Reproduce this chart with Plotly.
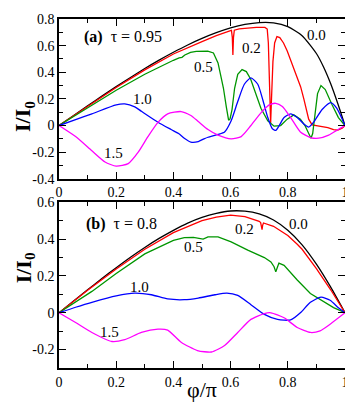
import plotly.graph_objects as go

# ---- panel (a): tau = 0.95 ----
a_x_00 = [0, 0.05, 0.1, 0.15, 0.2, 0.25, 0.3, 0.35, 0.4, 0.45, 0.5, 0.55, 0.6, 0.65,
          0.7, 0.75, 0.8, 0.85, 0.9, 0.925, 0.95, 0.975, 0.99, 1]
a_y_00 = [0, 0.074, 0.148, 0.221, 0.292, 0.361, 0.428, 0.491, 0.550, 0.605, 0.654, 0.697,
          0.733, 0.759, 0.773, 0.771, 0.743, 0.675, 0.541, 0.440, 0.314, 0.164, 0.066, 0]

a_x_02 = [0, 0.1, 0.2, 0.3, 0.4, 0.5, 0.55, 0.6, 0.603, 0.606, 0.608, 0.610, 0.613, 0.63,
          0.66, 0.69, 0.72, 0.728, 0.732, 0.735, 0.738, 0.740, 0.743, 0.748, 0.754, 0.762,
          0.772, 0.785, 0.798, 0.815, 0.833, 0.845, 0.856, 0.865, 0.873, 0.885, 0.9, 0.92,
          0.94, 0.96, 0.975, 0.99, 1]
a_y_02 = [0, 0.145, 0.286, 0.418, 0.537, 0.630, 0.675, 0.712, 0.714, 0.66, 0.53, 0.66, 0.716,
          0.726, 0.733, 0.737, 0.737, 0.725, 0.62, 0.35, 0.05, 0.02, 0.2, 0.48, 0.62, 0.668,
          0.66, 0.62, 0.56, 0.46, 0.37, 0.29, 0.20, 0.12, 0.048, 0.005, 0.0, -0.005,
          -0.015, -0.03, -0.035, -0.02, 0]

a_x_05 = [0, 0.1, 0.2, 0.3, 0.35, 0.4, 0.42, 0.43, 0.44, 0.46, 0.48, 0.52, 0.54, 0.556,
          0.565, 0.575, 0.585, 0.593, 0.598, 0.605, 0.614, 0.625, 0.64, 0.655, 0.67, 0.683,
          0.706, 0.73, 0.752, 0.775, 0.798, 0.821, 0.844, 0.86, 0.87, 0.881, 0.887, 0.895,
          0.904, 0.916, 0.931, 0.954, 0.977, 1]
a_y_05 = [0, 0.135, 0.265, 0.385, 0.44, 0.49, 0.508, 0.512, 0.53, 0.55, 0.557, 0.558, 0.545,
          0.47, 0.38, 0.28, 0.14, 0.04, 0.05, 0.12, 0.28, 0.385, 0.42, 0.405, 0.35, 0.275,
          0.13, 0.036, -0.005, 0.0, 0.048, 0.08, 0.048, 0.0, -0.04, -0.095, -0.06, 0.1,
          0.24, 0.30, 0.27, 0.16, 0.06, 0]

a_x_10 = [0, 0.058, 0.115, 0.2, 0.23, 0.265, 0.288, 0.346, 0.392, 0.418, 0.438, 0.461,
          0.487, 0.507, 0.521, 0.556, 0.579, 0.602, 0.625, 0.648, 0.671, 0.695, 0.713,
          0.73, 0.746, 0.758, 0.77, 0.787, 0.81, 0.833, 0.856, 0.873, 0.89, 0.92, 0.95,
          0.971, 1]
a_y_10 = [0, 0.045, 0.088, 0.155, 0.162, 0.14, 0.107, 0.025, -0.03, -0.06, -0.095, -0.124,
          -0.12, -0.1, -0.088, -0.067, -0.048, 0.036, 0.18, 0.31, 0.358, 0.31, 0.19,
          0.06, -0.024, -0.036, 0.0, 0.06, 0.088, 0.06, 0.012, -0.012, 0.024, 0.12, 0.172,
          0.13, 0]

a_x_15 = [0, 0.058, 0.115, 0.161, 0.2, 0.242, 0.277, 0.311, 0.346, 0.38, 0.427, 0.461,
          0.487, 0.521, 0.556, 0.602, 0.637, 0.671, 0.706, 0.735, 0.758, 0.781, 0.81,
          0.844, 0.879, 0.908, 0.943, 0.971, 1]
a_y_15 = [0, -0.083, -0.19, -0.274, -0.305, -0.286, -0.2, -0.083, 0.024, 0.088, 0.105, 0.075,
          0.03, -0.03, -0.072, -0.1, -0.083, 0.0, 0.095, 0.155, 0.167, 0.143, 0.06,
          -0.048, -0.09, -0.095, -0.072, -0.036, 0]

# ---- panel (b): tau = 0.8 ----
b_x_00 = [0, 0.05, 0.1, 0.15, 0.2, 0.25, 0.3, 0.35, 0.4, 0.45, 0.5, 0.55, 0.6, 0.65,
          0.7, 0.75, 0.8, 0.85, 0.9, 0.95, 1]
b_y_00 = [0, 0.063, 0.125, 0.186, 0.245, 0.302, 0.355, 0.404, 0.448, 0.487, 0.518, 0.540,
          0.553, 0.552, 0.537, 0.504, 0.448, 0.369, 0.264, 0.139, 0]

b_x_02 = [0, 0.1, 0.2, 0.3, 0.4, 0.5, 0.55, 0.6, 0.65, 0.69, 0.70, 0.705, 0.708, 0.710,
          0.712, 0.715, 0.75, 0.8, 0.833, 0.85, 0.9, 0.95, 1]
b_y_02 = [0, 0.122, 0.238, 0.345, 0.435, 0.500, 0.520, 0.530, 0.522, 0.503, 0.497, 0.49,
          0.46, 0.452, 0.475, 0.488, 0.470, 0.420, 0.372, 0.345, 0.240, 0.125, 0]

b_x_05 = [0, 0.115, 0.2, 0.3, 0.4, 0.438, 0.47, 0.49, 0.504, 0.521, 0.556, 0.602, 0.66,
          0.718, 0.741, 0.752, 0.758, 0.763, 0.769, 0.787, 0.833, 0.879, 0.925, 0.96, 1]
b_y_05 = [0, 0.116, 0.213, 0.32, 0.393, 0.408, 0.41, 0.403, 0.40, 0.412, 0.412, 0.385, 0.34,
          0.30, 0.276, 0.25, 0.222, 0.245, 0.27, 0.258, 0.178, 0.105, 0.06, 0.028, 0]

b_x_10 = [0, 0.058, 0.115, 0.2, 0.265, 0.323, 0.38, 0.438, 0.487, 0.545, 0.587, 0.625,
          0.671, 0.718, 0.764, 0.81, 0.844, 0.879, 0.916, 0.948, 0.977, 1]
b_y_10 = [0, 0.03, 0.057, 0.092, 0.107, 0.098, 0.075, 0.071, 0.08, 0.098, 0.107, 0.094,
          0.044, -0.009, -0.036, -0.039, 0.0, 0.057, 0.085, 0.068, 0.027, 0]

b_x_15 = [0, 0.058, 0.115, 0.185, 0.23, 0.288, 0.346, 0.38, 0.427, 0.484, 0.533, 0.579,
          0.625, 0.671, 0.718, 0.741, 0.787, 0.833, 0.879, 0.913, 0.948, 1]
b_y_15 = [0, -0.053, -0.107, -0.156, -0.146, -0.107, -0.089, -0.094, -0.16, -0.205, -0.213,
          -0.178, -0.107, -0.036, -0.004, 0.0, -0.027, -0.08, -0.107, -0.098, -0.062, 0]

x_tickvals = [0, 0.2, 0.4, 0.6, 0.8, 1]
x_ticktext = ["0", "0.2", "0.4", "0.6", "0.8", "1"]
a_tickvals = [-0.4, -0.2, 0, 0.2, 0.4, 0.6, 0.8]
a_ticktext = ["-0.4", "-0.2", "0", "0.2", "0.4", "0.6", "0.8"]
b_tickvals = [-0.2, 0, 0.2, 0.4, 0.6]
b_ticktext = ["-0.2", "0", "0.2", "0.4", "0.6"]

colors = {"0.0": "black", "0.2": "#ff0000", "0.5": "#009600", "1.0": "#0000ff", "1.5": "#ff00ff"}
SERIF = "Liberation Serif"

fig = go.Figure()

panels = [
    ("x", "y", [("0.0", a_x_00, a_y_00), ("0.2", a_x_02, a_y_02), ("0.5", a_x_05, a_y_05),
                ("1.0", a_x_10, a_y_10), ("1.5", a_x_15, a_y_15)]),
    ("x2", "y2", [("0.0", b_x_00, b_y_00), ("0.2", b_x_02, b_y_02), ("0.5", b_x_05, b_y_05),
                  ("1.0", b_x_10, b_y_10), ("1.5", b_x_15, b_y_15)]),
]
for xa, ya, curves in panels:
    for name, xs, ys in curves:
        shape = "linear" if name in ("0.2", "0.5") else "spline"
        fig.add_trace(go.Scatter(
            x=xs, y=ys, mode="lines", xaxis=xa, yaxis=ya, showlegend=False,
            line=dict(color=colors[name], width=1.3, shape=shape, smoothing=0.6),
        ))

axis_common = dict(
    showgrid=False, zeroline=False, showline=True, linecolor="black", linewidth=1.5,
    mirror="allticks", ticks="inside", ticklen=7, tickcolor="black", tickwidth=1,
    tickfont=dict(family=SERIF, size=14, color="black"),
    minor=dict(ticks="inside", ticklen=4, tickcolor="black", dtick=0.1),
)

# page body adds an 8px margin, so the figure is sized 8px smaller
fig.update_layout(
    width=345, height=402,
    margin=dict(l=51, r=5, t=4, b=42),
    plot_bgcolor="white", paper_bgcolor="white",
    font=dict(family=SERIF, color="black"),
    xaxis=dict(domain=[0, 1], anchor="y", range=[0, 1], tickvals=x_tickvals,
               ticktext=x_ticktext, **axis_common),
    yaxis=dict(domain=[0.5421, 1], anchor="x", range=[-0.4, 0.8], tickvals=a_tickvals,
               ticktext=a_ticktext, **axis_common),
    xaxis2=dict(domain=[0, 1], anchor="y2", range=[0, 1], tickvals=x_tickvals,
                ticktext=x_ticktext, **axis_common),
    yaxis2=dict(domain=[0, 0.4747], anchor="x2", range=[-0.3, 0.6], tickvals=b_tickvals,
                ticktext=b_ticktext, **axis_common),
)

# curve labels
labels_a = [("0.0", 0.899, 0.682), ("0.2", 0.674, 0.582), ("0.5", 0.504, 0.441),
            ("1.0", 0.293, 0.198), ("1.5", 0.189, -0.203)]
labels_b = [("0.0", 0.839, 0.484), ("0.2", 0.648, 0.453), ("0.5", 0.472, 0.356),
            ("1.0", 0.282, 0.139), ("1.5", 0.178, -0.107)]
for xa, ya, labs in (("x", "y", labels_a), ("x2", "y2", labels_b)):
    for txt, lx, ly in labs:
        fig.add_annotation(x=lx, y=ly, xref=xa, yref=ya, text=txt, showarrow=False,
                           font=dict(family=SERIF, size=15, color="black"))

fig.add_annotation(x=0.082, y=0.668, xref="x", yref="y", xanchor="left",
                   text="<b>(a)</b>  τ = 0.95", showarrow=False,
                   font=dict(family=SERIF, size=16, color="black"))
fig.add_annotation(x=0.086, y=0.48, xref="x2", yref="y2", xanchor="left",
                   text="<b>(b)</b>  τ = 0.8", showarrow=False,
                   font=dict(family=SERIF, size=16, color="black"))

# axis titles
for yc in (0.771, 0.237):
    fig.add_annotation(x=-0.1765, y=yc, xref="paper", yref="paper", textangle=-90,
                       xanchor="left", text="<b>I/I<sub>0</sub></b>", showarrow=False,
                       font=dict(family=SERIF, size=22, color="black"))
fig.add_annotation(x=0.5, y=-0.062, xref="paper", yref="paper", yanchor="middle",
                   text="φ/π", showarrow=False,
                   font=dict(family=SERIF, size=22, color="black"))

fig.write_html("out.html")
